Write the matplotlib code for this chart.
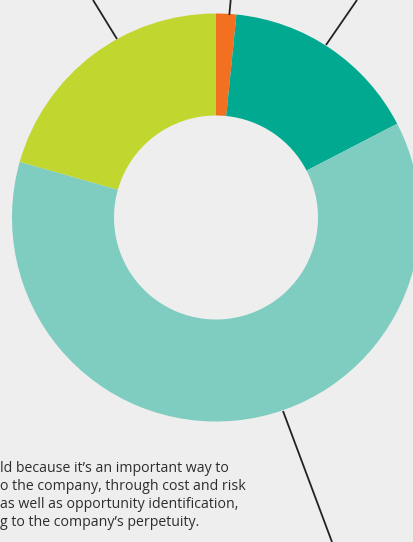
import matplotlib
matplotlib.use("Agg")
import matplotlib.pyplot as plt
from matplotlib import font_manager

# slice shares (%), clockwise from 12 o'clock
labels = ["Other", "Dark teal", "Light teal", "Green"]
values = [1.6, 15.8, 62.0, 20.6]
colors = ["#f37021", "#00a98f", "#7ecdc0", "#c1d72f"]

text_lines = [
    "ld because it\u2019s an important way to",
    "o the company, through cost and risk",
    "as well as opportunity identification,",
    "g to the company\u2019s perpetuity.",
]

W, H = 414, 542
bg = "#eeeeee"

names = {f.name for f in font_manager.fontManager.ttflist}
font = "Liberation Sans Narrow" if "Liberation Sans Narrow" in names else "Open Sans"

fig = plt.figure(figsize=(W / 100, H / 100), dpi=100, facecolor=bg)
ax = fig.add_axes([0, 0, 1, 1])
ax.set_facecolor(bg)

cx, cy, r = 216, 217.5, 204
# y axis is inverted, so counterclock=True draws clockwise on screen
ax.pie(values, colors=colors, startangle=-90, counterclock=True,
       center=(cx, cy), radius=r, frame=True,
       wedgeprops=dict(width=r / 2, linewidth=0))
ax.set_xlim(0, W)
ax.set_ylim(H, 0)
ax.set_aspect("equal")
ax.axis("off")

# leader lines
leaders = [((93, 0), (117, 39)), ((230.7, 0), (229.3, 15)),
           ((357, 0), (326, 45)), ((283, 411), (332, 542))]
for (x0, y0), (x1, y1) in leaders:
    ax.plot([x0, x1], [y0, y1], color="#222222", lw=1.3, solid_capstyle="butt")

for i, t in enumerate(text_lines):
    ax.text(0, 469 + 18 * i, t, fontsize=10.2, family=font, color="#2e2e2e",
            va="center", ha="left")

fig.savefig("out.png", dpi=100, facecolor=bg)
